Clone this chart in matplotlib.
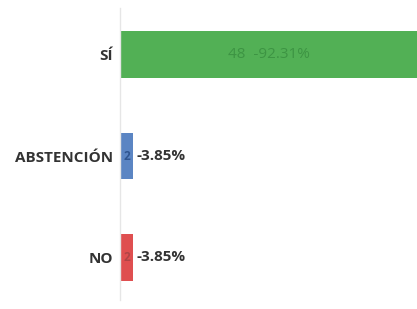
import matplotlib
matplotlib.use("Agg")
import matplotlib.pyplot as plt

categories = ["NO", "ABSTENCIÓN", "SÍ"]
votes = [2, 2, 48]
percents = ["-3.85%", "-3.85%", "-92.31%"]
colors = ["#df4f50", "#5b85c3", "#52b055"]
inner_colors = ["#b04446", "#2f5590", "#3e9444"]

plt.rcParams['font.family'] = ['Open Sans', 'DejaVu Sans']

fig = plt.figure(figsize=(4.17, 3.09), dpi=100)
ax = fig.add_axes([0.288, 0.029, 0.712, 0.945])

ypos = list(range(len(categories)))
ax.barh(ypos, votes, height=0.46, color=colors)

xmax = 45.7
ax.set_xlim(0, xmax)
ax.set_ylim(-0.42, 2.46)

for y, v, p, ic in zip(ypos, votes, percents, inner_colors):
    if v > xmax / 4:
        cx = min(v, xmax) / 2
        ax.text(cx, y, f"{v}  {p}", ha="center", va="center",
                fontsize=11, color="#3d9443")
    else:
        ax.text(v / 2, y, str(v), ha="center", va="center",
                fontsize=8.5, color=ic, fontweight="bold")
        ax.text(v + 0.45, y, p, ha="left", va="center",
                fontsize=11, color="#333333", fontweight="bold")

ax.set_yticks(ypos)
ax.set_yticklabels(categories, fontsize=11, color="#333333", fontweight="bold")
ax.tick_params(axis="y", length=0, pad=5)
ax.set_xticks([])
for s in ["top", "right", "bottom"]:
    ax.spines[s].set_visible(False)
ax.spines["left"].set_color("#e6e6e6")
ax.spines["left"].set_linewidth(1)

fig.savefig("out.png", dpi=100)
